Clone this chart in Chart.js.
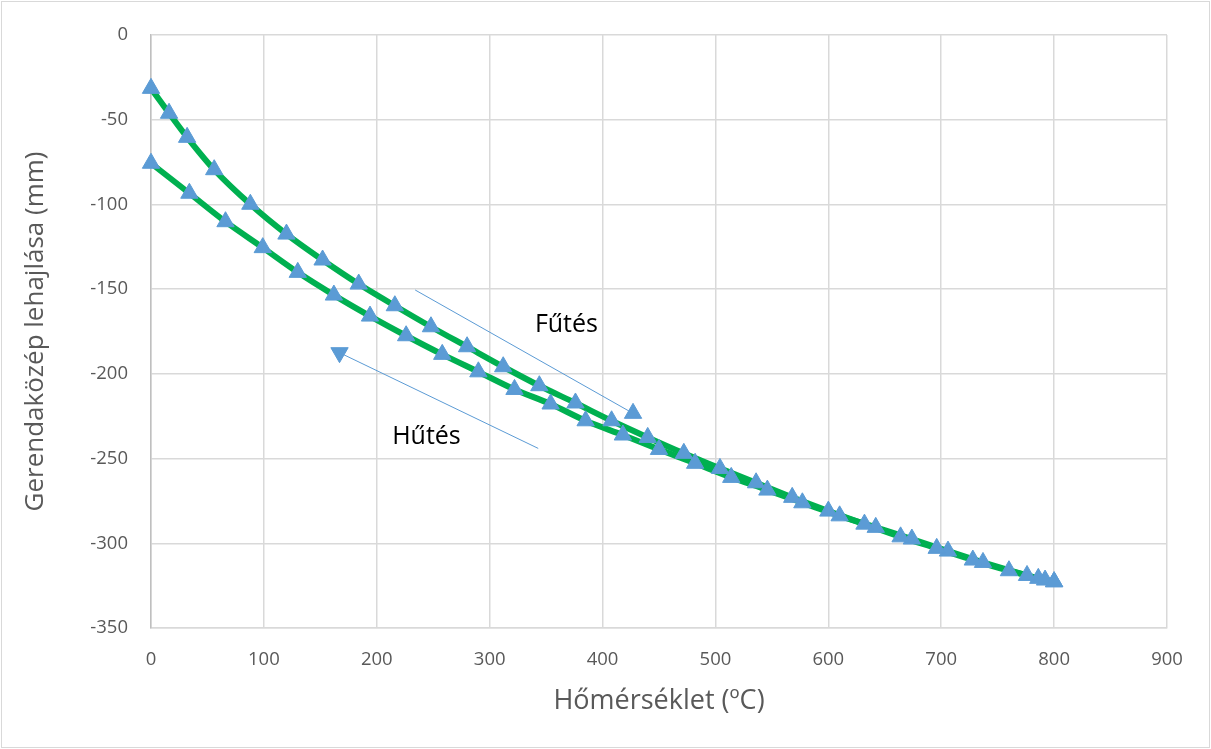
<!DOCTYPE html>
<html lang="hu">
<head>
<meta charset="UTF-8">
<title>Gerendaközép lehajlása</title>
<script src="https://cdn.jsdelivr.net/npm/chart.js@4.4.1/dist/chart.umd.min.js"></script>
<style>
    html, body { margin: 0; padding: 0; background: #fff; }
</style>
</head>
<body>
<canvas id="myChart" width="1211" height="749"></canvas>

<script>
    // Fűtés (heating) branch, 0 -> 800 °C
    var heatTemp = [0, 16, 32, 56, 88, 120, 152, 184, 216, 248, 280, 312, 344, 376, 408,
                    440, 472, 504, 536, 568, 600, 632, 664, 696, 728, 760, 792, 800];
    var heatDefl = [-31.5, -46.2, -60.4, -79.5, -99.9, -117.5, -132.8, -147, -159.8, -172.2,
                    -184, -195.8, -207, -217.2, -227.7, -237.5, -246.9, -255.8, -264.3, -272.9,
                    -281, -288.7, -296.2, -303, -309.9, -316.2, -321.7, -322.7];

    // Hűtés (cooling) branch, 800 -> 0 °C
    var coolTemp = [800, 786, 776, 737, 706, 674, 642, 610, 577, 546, 514, 482, 450, 418,
                    385, 354, 322, 290, 258, 226, 194, 162, 130, 99, 66, 34, 0];
    var coolDefl = [-322.7, -320.7, -319, -311.3, -304.6, -297.5, -290.6, -283.8, -276.1,
                    -268.6, -261.1, -252.8, -244.6, -236.1, -227.7, -217.8, -209.2, -198.8,
                    -188.5, -177.5, -165.9, -153.5, -140.1, -125.5, -110.2, -93.4, -75.7];

    // direction arrows (start, end) and their captions
    var heatArrowTemp = [234, 427];
    var heatArrowDefl = [-150.5, -223.3];
    var coolArrowTemp = [343, 167];
    var coolArrowDefl = [-244, -187.5];
    var noteText = ['Fűtés', 'Hűtés'];
    var noteTemp = [368, 244];
    var noteDefl = [-171, -237];

    var xTicks = [0, 100, 200, 300, 400, 500, 600, 700, 800, 900];
    var yTicks = [0, -50, -100, -150, -200, -250, -300, -350];

    function pairs(xs, ys) {
        return xs.map(function (x, i) { return { x: x, y: ys[i] }; });
    }

    var green = '#00B050';
    var blue = '#5B9BD5';
    var gridColor = '#D9D9D9';
    var textColor = '#595959';
    var fontFamily = "'Open Sans', 'Liberation Sans', sans-serif";

    var frame = {
        id: 'frame',
        beforeDraw: function (chart) {
            var ctx = chart.ctx;
            ctx.save();
            ctx.fillStyle = '#fff';
            ctx.fillRect(0, 0, chart.width, chart.height);
            ctx.strokeStyle = gridColor;
            ctx.lineWidth = 1;
            ctx.strokeRect(1.5, 1.5, chart.width - 3, chart.height - 3);
            ctx.restore();
        },
        afterDatasetsDraw: function (chart) {
            var ctx = chart.ctx;
            var xs = chart.scales.x, ys = chart.scales.y;
            ctx.save();
            ctx.fillStyle = '#000';
            ctx.font = '25px ' + fontFamily;
            ctx.textAlign = 'center';
            ctx.textBaseline = 'middle';
            noteText.forEach(function (t, i) {
                ctx.fillText(t, xs.getPixelForValue(noteTemp[i]), ys.getPixelForValue(noteDefl[i]));
            });
            ctx.restore();
        }
    };

    var ctx = document.getElementById('myChart').getContext('2d');
    var chart = new Chart(ctx, {
        type: 'scatter',
        data: {
            datasets: [
                { data: pairs(heatTemp, heatDefl), showLine: true, borderColor: green, borderWidth: 6,
                  tension: 0.3, pointRadius: 0, order: 3, clip: false },
                { data: pairs(coolTemp, coolDefl), showLine: true, borderColor: green, borderWidth: 6,
                  tension: 0.3, pointRadius: 0, order: 3, clip: false },
                { data: pairs(heatTemp, heatDefl), showLine: false, pointStyle: 'triangle', clip: false,
                  pointRadius: 10, backgroundColor: blue, borderColor: blue, pointBorderWidth: 1, order: 1 },
                { data: pairs(coolTemp, coolDefl), showLine: false, pointStyle: 'triangle', clip: false,
                  pointRadius: 10, backgroundColor: blue, borderColor: blue, pointBorderWidth: 1, order: 1 },
                { data: pairs(heatArrowTemp, heatArrowDefl), showLine: true, borderColor: blue, borderWidth: 1,
                  pointStyle: 'triangle', pointRadius: [0, 10], backgroundColor: blue, order: 2 },
                { data: pairs(coolArrowTemp, coolArrowDefl), showLine: true, borderColor: blue, borderWidth: 1,
                  pointStyle: 'triangle', pointRadius: [0, 10], pointRotation: 180, backgroundColor: blue, order: 2 }
            ]
        },
        options: {
            responsive: false,
            animation: false,
            devicePixelRatio: 1,
            layout: { padding: { left: 0, right: 44, top: 35, bottom: 0 } },
            plugins: {
                legend: { display: false },
                tooltip: { enabled: false }
            },
            scales: {
                x: {
                    type: 'linear',
                    min: 0, max: 900,
                    afterBuildTicks: function (s) { s.ticks = xTicks.map(function (v) { return { value: v }; }); },
                    afterFit: function (s) { s.height = 121; },
                    grid: { color: gridColor, lineWidth: 1.5, drawTicks: false },
                    border: { color: gridColor, width: 1.5 },
                    ticks: { color: textColor, padding: 21, font: { family: fontFamily, size: 18.5 }, maxRotation: 0 },
                    title: { display: true, text: 'Hőmérséklet (ºC)', color: textColor,
                             font: { family: fontFamily, size: 27 }, padding: { bottom: 31 } }
                },
                y: {
                    type: 'linear',
                    min: -350, max: 0,
                    afterBuildTicks: function (s) { s.ticks = yTicks.map(function (v) { return { value: v }; }); },
                    afterFit: function (s) { s.width = 151; },
                    grid: { color: gridColor, lineWidth: 1.5, drawTicks: false },
                    border: { color: '#BFBFBF', width: 1.5 },
                    ticks: { color: textColor, padding: 23, font: { family: fontFamily, size: 18.5 } },
                    title: { display: true, text: 'Gerendaközép lehajlása (mm)', color: textColor,
                             font: { family: fontFamily, size: 26 }, padding: { top: 20 } }
                }
            }
        },
        plugins: [frame]
    });
</script>
</body>
</html>
